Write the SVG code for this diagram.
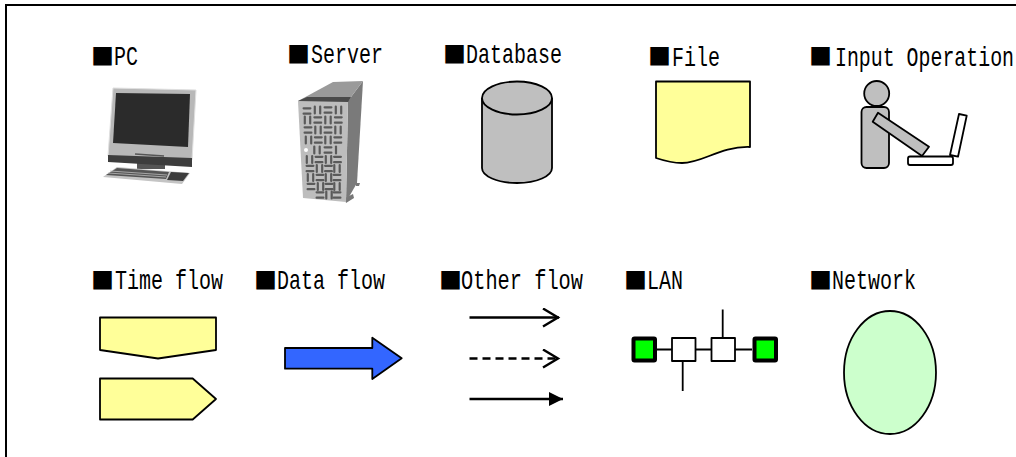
<svg xmlns="http://www.w3.org/2000/svg" xmlns:xlink="http://www.w3.org/1999/xlink" width="1016" height="457" viewBox="0 0 1016 457">
<style>
.t{font-family:"Liberation Mono","Noto Sans CJK JP",monospace;font-size:28px;fill:#000}
.b{font-family:"Noto Sans CJK JP","DejaVu Sans",sans-serif;font-size:23px}
.s{stroke:#000;stroke-width:1.8;stroke-linejoin:round}
.y{fill:#ffff99}
.g{fill:#bfbfbf}
.fl{fill:none;stroke:#000;stroke-width:2.4}
.slot{fill:none;stroke:#5a5a5a;stroke-width:2.2;stroke-linecap:round}
</style>
<defs>
<g id="H"><path class="slot" d="M-3.4-2.7H3.4M-3.4 2.7H3.4"/></g>
<g id="V"><path class="slot" d="M-2.7-3.4V3.4M2.7-3.4V3.4"/></g>
<marker id="open" markerUnits="userSpaceOnUse" markerWidth="20" markerHeight="22" refX="17" refY="10" orient="auto"><path d="M1 1L16 10L1 19" fill="none" stroke="#000" stroke-width="2.4"/></marker>
<marker id="solid" markerUnits="userSpaceOnUse" markerWidth="16" markerHeight="16" refX="14" refY="7" orient="auto"><path d="M0 0L14 7L0 14Z" fill="#000"/></marker>
</defs>
<rect width="1016" height="457" fill="#fff"/>
<path d="M6 457V5H1016" fill="none" stroke="#000" stroke-width="2"/>

<g id="pc">
<text class="t"><tspan class="b" x="91" y="65">■</tspan><tspan x="114" y="65" textLength="24" lengthAdjust="spacingAndGlyphs">PC</tspan></text>
<path d="M137 160H165V169H137Z" fill="#555"/>
<path d="M113 88L196 90L192 160L108 156Z" fill="#b8b8b8" stroke="#e0e0e0"/>
<path d="M116 93L190 94L188 147L113 143Z" fill="#2b2b2b"/>
<path d="M108 155L192 158V167L108 162Z" fill="#3d3d3d"/>
<path d="M135 154L164 156" stroke="#555" stroke-width="1.5"/>
<path d="M117 167L190 173L182 184L103 177Z" fill="#c4c4c4"/>
<path d="M117 168L169 172L166 179L106 175Z" fill="#555"/>
<path d="M110 171L167 175M108 173L166 177" stroke="#bbb" stroke-width=".8"/>
<path d="M171 172L189 173L183 181L167 180Z" fill="#3d3d3d"/>
</g>

<g id="server">
<text class="t"><tspan class="b" x="287" y="63">■</tspan><tspan x="311" y="63" textLength="72" lengthAdjust="spacingAndGlyphs">Server</tspan></text>
<path d="M356 183H360L359 186H356ZM345 198L353 194L354 198L346 203Z" fill="#777"/>
<path d="M348 101L363 81L357 183L346 202Z" fill="#7a7a7a"/>
<path d="M298 101L333 82L363 81L348 101Z" fill="#9a9a9a"/>
<path d="M298 101L303 198L346 202L348 101Z" fill="#bdbdbd"/>
<path d="M298 101L307 97H351L348 102Z" fill="#4a4a4a"/>
<use xlink:href="#H" x="307" y="111"/><use xlink:href="#V" x="317.5" y="110"/><use xlink:href="#H" x="328" y="110"/><use xlink:href="#V" x="338.5" y="110"/>
<use xlink:href="#V" x="307.5" y="120"/><use xlink:href="#H" x="317.8" y="120"/><use xlink:href="#V" x="328" y="120"/><use xlink:href="#H" x="338.3" y="120"/>
<use xlink:href="#H" x="308" y="130"/><use xlink:href="#V" x="318" y="130"/><use xlink:href="#H" x="328" y="130"/><use xlink:href="#V" x="338" y="130"/>
<use xlink:href="#V" x="308.5" y="140"/><use xlink:href="#H" x="318.3" y="140"/><use xlink:href="#V" x="328" y="140"/><use xlink:href="#H" x="337.8" y="140"/>
<use xlink:href="#V" x="317" y="150"/><use xlink:href="#H" x="328" y="150"/><path class="slot" d="M336 146.5V153.5"/>
<use xlink:href="#V" x="309.5" y="159.5"/><use xlink:href="#H" x="319" y="159.5"/><use xlink:href="#V" x="328.5" y="159.5"/><use xlink:href="#H" x="337.5" y="159.5"/>
<use xlink:href="#H" x="310" y="168.5"/><use xlink:href="#V" x="319.5" y="168.5"/><use xlink:href="#H" x="328.5" y="168.5"/><use xlink:href="#V" x="337" y="168.5"/>
<use xlink:href="#V" x="310.5" y="177.5"/><use xlink:href="#H" x="320" y="177.5"/><use xlink:href="#V" x="328.5" y="177.5"/><use xlink:href="#H" x="337" y="177.5"/>
<use xlink:href="#H" x="311" y="186.5"/><use xlink:href="#V" x="320.5" y="186.5"/><use xlink:href="#H" x="329" y="186.5"/><use xlink:href="#V" x="337" y="186.5"/>
<use xlink:href="#H" x="320" y="195"/><use xlink:href="#V" x="329" y="195"/><use xlink:href="#H" x="337" y="195"/>
<circle cx="306" cy="150" r="2" fill="#fff"/>
</g>

<g id="database">
<text class="t"><tspan class="b" x="443" y="63">■</tspan><tspan x="466" y="63" textLength="96" lengthAdjust="spacingAndGlyphs">Database</tspan></text>
<path class="s g" d="M482 98V168C482 176 497 183 517 183S552 176 552 168V98"/>
<ellipse class="s g" cx="517" cy="98" rx="35" ry="16.5"/>
</g>

<g id="file">
<text class="t"><tspan class="b" x="648" y="65">■</tspan><tspan x="672" y="66" textLength="48" lengthAdjust="spacingAndGlyphs">File</tspan></text>
<path class="s y" d="M656 81.5H750V147C720 146 703 163 682 163C672 163 665 161 656 158Z"/>
</g>

<g id="input-operation">
<text class="t"><tspan class="b" x="809" y="65">■</tspan><tspan x="835" y="66" textLength="179" lengthAdjust="spacingAndGlyphs">Input Operation</tspan></text>
<ellipse class="s g" cx="876.7" cy="93.5" rx="12.5" ry="12.5"/>
<rect class="s g" x="861.5" y="107" width="27.5" height="61" rx="5"/>
<path class="s" fill="#fff" d="M959 114L966.7 115.7L958 156.7L950 155Z"/>
<rect class="s" fill="#fff" x="908" y="156.5" width="45" height="8.5" rx="2"/>
<path class="s g" d="M878 112.7L929 146.7L922 156L872.7 121.7Z"/>
</g>

<g id="time-flow">
<text class="t"><tspan class="b" x="91" y="289">■</tspan><tspan x="115" y="289" textLength="108" lengthAdjust="spacingAndGlyphs">Time flow</tspan></text>
<path class="s y" d="M100 317.5H216V350L158 358.5L100 350Z"/>
<path class="s y" d="M100 378.5H192.7L216 399L192.7 419.5H100Z"/>
</g>

<g id="data-flow">
<text class="t"><tspan class="b" x="254" y="289">■</tspan><tspan x="277" y="289" textLength="108" lengthAdjust="spacingAndGlyphs">Data flow</tspan></text>
<path class="s" fill="#3366ff" d="M285 348H372.3V337.7L401.7 358.3L372.3 379V368.7H285Z"/>
</g>

<g id="other-flow">
<text class="t"><tspan class="b" x="439" y="289">■</tspan><tspan x="461" y="289" textLength="122" lengthAdjust="spacingAndGlyphs">Other flow</tspan></text>
</g>

<g id="lan">
<text class="t"><tspan class="b" x="624" y="289">■</tspan><tspan x="647" y="289" textLength="36" lengthAdjust="spacingAndGlyphs">LAN</tspan></text>
<path d="M656 349.5H752M682.7 361V391M722.7 309.5V338" fill="none" stroke="#000" stroke-width="1.8"/>
<rect x="633.5" y="338.5" width="21.5" height="22" rx="1" fill="#00ff00" stroke="#000" stroke-width="4"/>
<rect x="754.5" y="338.5" width="21.5" height="22" rx="1" fill="#00ff00" stroke="#000" stroke-width="4"/>
<rect class="s" x="672" y="338" width="23.5" height="23" fill="#fff"/>
<rect class="s" x="711.5" y="338" width="23.5" height="23" fill="#fff"/>
</g>

<g id="network">
<text class="t"><tspan class="b" x="809" y="289">■</tspan><tspan x="832" y="289" textLength="84" lengthAdjust="spacingAndGlyphs">Network</tspan></text>
<ellipse class="s" cx="890" cy="372.5" rx="46" ry="61.5" fill="#ccffcc"/>
</g>

<g id="connectors">
<path class="fl" d="M469.5 317.5H559" marker-end="url(#open)"/>
<path class="fl" d="M469.5 358.5H559" stroke-dasharray="8 5" marker-end="url(#open)"/>
<path class="fl" d="M469.5 399H563" marker-end="url(#solid)"/>
</g>
</svg>
